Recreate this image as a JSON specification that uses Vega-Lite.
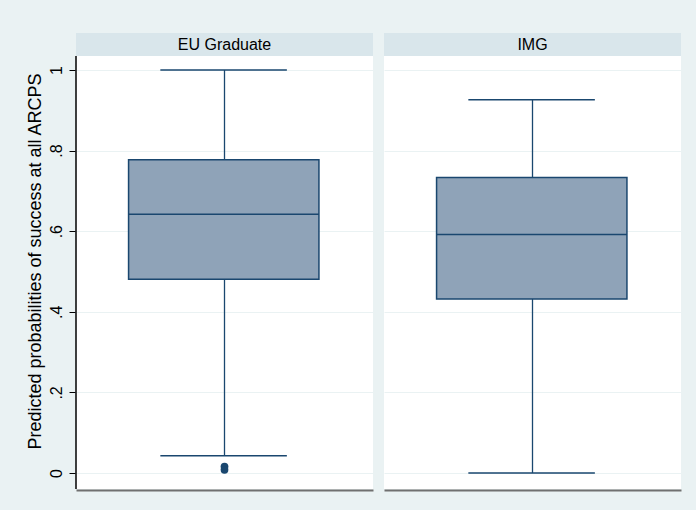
{
  "$schema": "https://vega.github.io/schema/vega-lite/v6.json",
  "background": "#eaf2f3",
  "padding": {"left": 26, "top": 33, "right": 15, "bottom": 20},
  "data": {
    "values": [
      {"group": "EU Graduate", "lower": 0.043, "q1": 0.481, "median": 0.642, "q3": 0.777, "upper": 1.0},
      {"group": "IMG", "lower": 0.0, "q1": 0.432, "median": 0.592, "q3": 0.733, "upper": 0.926},
      {"group": "EU Graduate", "outlier": 0.016},
      {"group": "EU Graduate", "outlier": 0.008}
    ]
  },
  "facet": {"column": {"field": "group", "type": "nominal", "header": null, "sort": ["EU Graduate", "IMG"]}},
  "spacing": 11,
  "spec": {
    "width": 297,
    "height": 456,
    "layer": [
      {
        "transform": [{"filter": "isValid(datum.q1)"}],
        "mark": {"type": "rule", "stroke": "#1a476f", "strokeWidth": 1.3},
        "encoding": {
          "x": {"datum": 0.5, "type": "quantitative", "scale": {"domain": [0, 1], "nice": false, "zero": false},
                "axis": {"labels": false, "ticks": false, "grid": false, "title": null, "domain": true, "domainColor": "#707070", "domainWidth": 2}},
          "y": {"field": "lower", "type": "quantitative",
                "scale": {"domain": [-0.0397, 1.0918], "nice": false, "zero": false},
                "axis": {"values": [0, 0.2, 0.4, 0.6, 0.8, 1],
                         "labelExpr": "datum.value == 0 ? '0' : datum.value == 1 ? '1' : '.' + round(datum.value * 10)",
                         "labelAngle": -90, "labelAlign": "center", "labelBaseline": "alphabetic",
                         "labelPadding": 8, "labelFont": "Liberation Sans", "labelFontSize": 16, "labelColor": "#000000",
                         "tickSize": 6, "tickColor": "#000000", "tickWidth": 1,
                         "domain": false, "grid": true, "gridColor": "#eaf2f3", "gridWidth": 1,
                         "minExtent": 24, "maxExtent": 24, "titlePadding": 7,
                         "title": "Predicted probabilities of success at all ARCPS",
                         "titleFont": "Liberation Sans", "titleFontSize": 18, "titleFontWeight": "normal", "titleColor": "#000000"}},
          "y2": {"field": "q1"}
        }
      },
      {
        "transform": [{"filter": "isValid(datum.q1)"}],
        "mark": {"type": "rule", "stroke": "#1a476f", "strokeWidth": 1.3},
        "encoding": {
          "x": {"datum": 0.5, "type": "quantitative"},
          "y": {"field": "q3", "type": "quantitative", "title": "Predicted probabilities of success at all ARCPS"},
          "y2": {"field": "upper"}
        }
      },
      {
        "transform": [{"filter": "isValid(datum.q1)"}],
        "mark": {"type": "rule", "stroke": "#1a476f", "strokeWidth": 1.5},
        "encoding": {
          "x": {"datum": 0.284, "type": "quantitative"},
          "x2": {"datum": 0.71},
          "y": {"field": "lower", "type": "quantitative", "title": "Predicted probabilities of success at all ARCPS"}
        }
      },
      {
        "transform": [{"filter": "isValid(datum.q1)"}],
        "mark": {"type": "rule", "stroke": "#1a476f", "strokeWidth": 1.5},
        "encoding": {
          "x": {"datum": 0.284, "type": "quantitative"},
          "x2": {"datum": 0.71},
          "y": {"field": "upper", "type": "quantitative", "title": "Predicted probabilities of success at all ARCPS"}
        }
      },
      {
        "transform": [{"filter": "isValid(datum.q1)"}],
        "mark": {"type": "rect", "fill": "#8fa3b8", "stroke": "#1a476f", "strokeWidth": 1.5},
        "encoding": {
          "x": {"datum": 0.177, "type": "quantitative"},
          "x2": {"datum": 0.818},
          "y": {"field": "q1", "type": "quantitative", "title": "Predicted probabilities of success at all ARCPS"},
          "y2": {"field": "q3"}
        }
      },
      {
        "transform": [{"filter": "isValid(datum.q1)"}],
        "mark": {"type": "rule", "stroke": "#1a476f", "strokeWidth": 1.5},
        "encoding": {
          "x": {"datum": 0.177, "type": "quantitative"},
          "x2": {"datum": 0.818},
          "y": {"field": "median", "type": "quantitative", "title": "Predicted probabilities of success at all ARCPS"}
        }
      },
      {
        "transform": [{"filter": "isValid(datum.outlier)"}],
        "mark": {"type": "point", "filled": true, "color": "#1a476f", "opacity": 1, "size": 60},
        "encoding": {
          "x": {"datum": 0.5, "type": "quantitative"},
          "y": {"field": "outlier", "type": "quantitative", "title": "Predicted probabilities of success at all ARCPS"}
        }
      },
      {
        "transform": [{"filter": "isValid(datum.q1)"}],
        "mark": {"type": "rect", "fill": "#d9e6eb"},
        "encoding": {
          "x": {"datum": 0, "type": "quantitative"},
          "x2": {"datum": 1},
          "y": {"datum": 1.0347, "type": "quantitative"},
          "y2": {"datum": 1.0918}
        }
      },
      {
        "transform": [{"filter": "isValid(datum.q1)"}],
        "mark": {"type": "text", "font": "Liberation Sans", "fontSize": 16, "color": "#000000", "baseline": "middle", "align": "center"},
        "encoding": {
          "x": {"datum": 0.5, "type": "quantitative"},
          "y": {"datum": 1.0632, "type": "quantitative"},
          "text": {"field": "group"}
        }
      },
      {
        "transform": [{"filter": "isValid(datum.q1) && datum.group == 'EU Graduate'"}],
        "mark": {"type": "rule", "stroke": "#000000", "strokeWidth": 1.5},
        "encoding": {
          "x": {"datum": 0, "type": "quantitative"},
          "y": {"datum": -0.0397, "type": "quantitative"},
          "y2": {"datum": 1.0347}
        }
      }
    ]
  },
  "config": {
    "view": {"stroke": null, "fill": "#ffffff"}
  }
}
